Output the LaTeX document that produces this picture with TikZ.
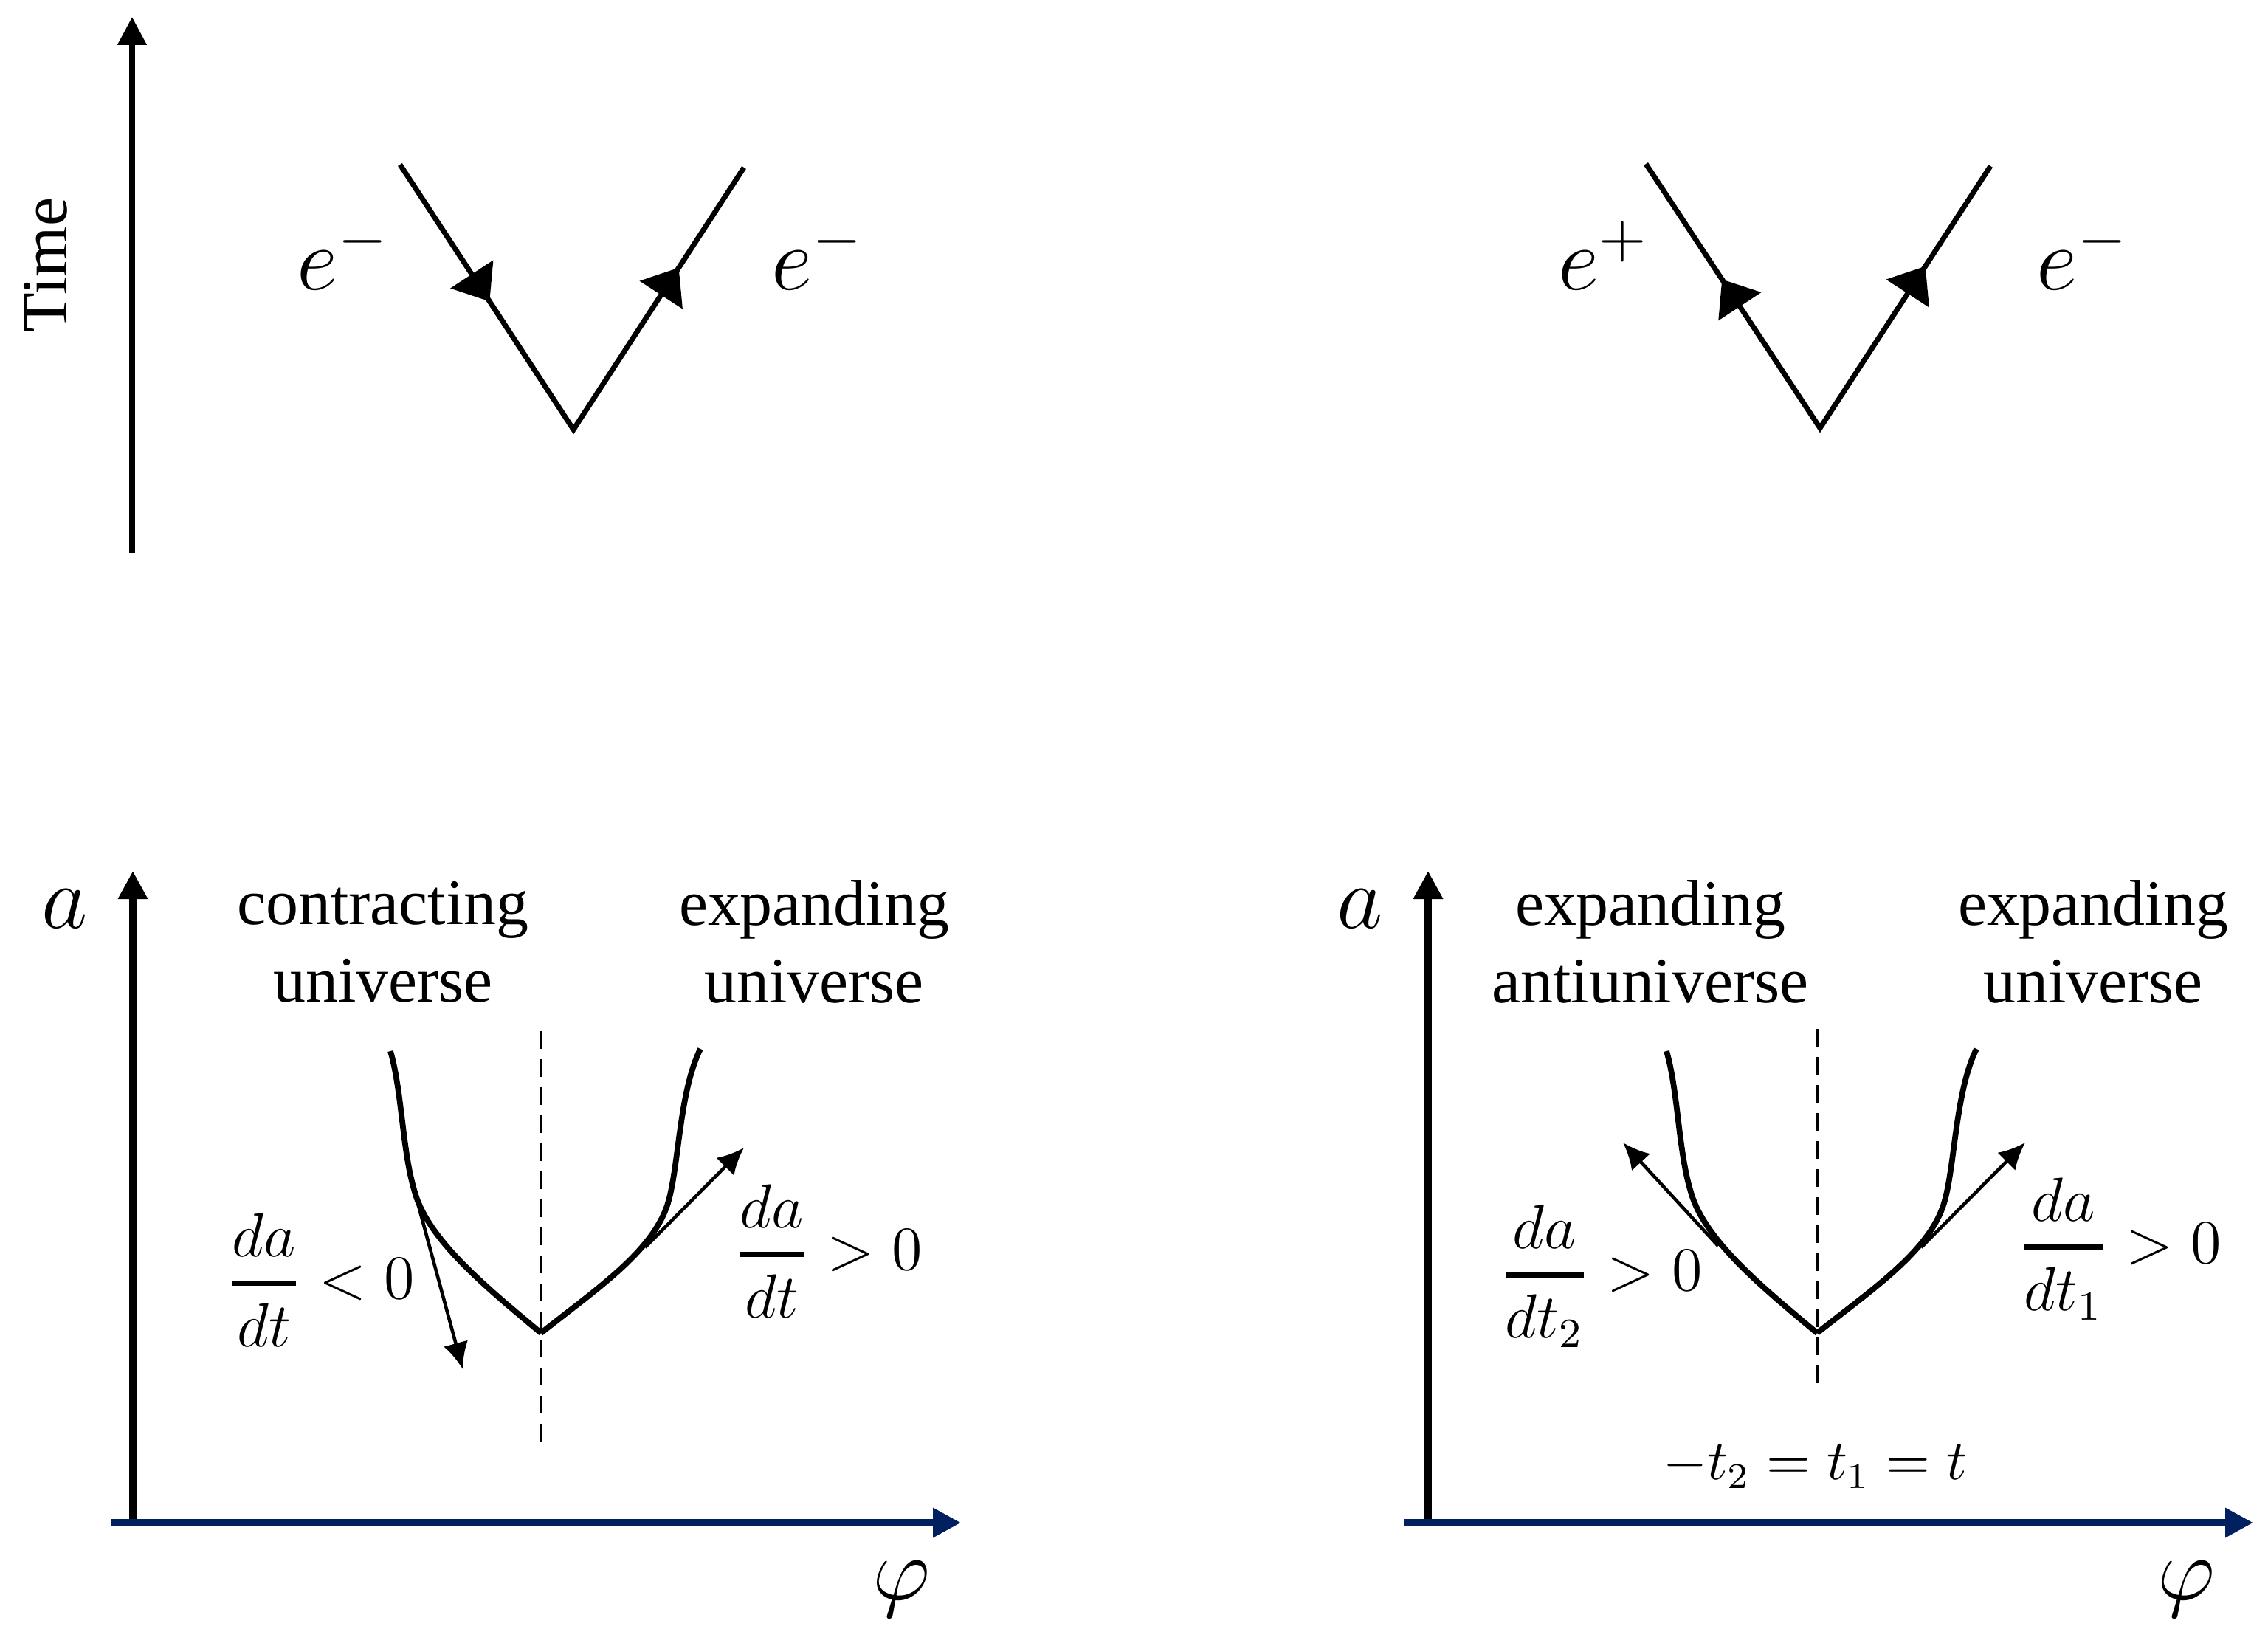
\documentclass[tikz,border=0pt]{standalone}
\usepackage{amsmath}
\usepackage{fontspec}
\setmainfont{Liberation Serif}
\usetikzlibrary{arrows.meta,decorations.markings}

\definecolor{navy}{RGB}{0,32,96}
\newcommand{\ratio}[2]{\genfrac{}{}{1.1pt}{0}{#1}{#2}}
\tikzset{
  ftip/.tip={Triangle[length=2.2mm,width=3.4mm]},
  taxis/.style={line width=1.1pt,-{Triangle[length=1.9mm,width=1.9mm]}},
  axis/.style={line width=1.4pt,-{Triangle[length=1.9mm,width=1.9mm]}},
  faxis/.style={axis,navy},
  vline/.style={line width=1pt,postaction={decorate}},
  curve/.style={line width=1.1pt},
  slope/.style={line width=0.65pt,-{Latex[length=1.8mm,width=1.7mm]}},
  divide/.style={line width=0.6pt,dash pattern=on 1.2mm off 0.7mm},
  lab/.style={font=\fontsize{12.5}{14.9}\selectfont,align=center,inner sep=0pt},
  big/.style={font=\fontsize{17}{20}\selectfont,inner sep=0pt},
  frac/.style={font=\fontsize{12}{14}\selectfont,inner sep=0pt},
}

\begin{document}
\begin{tikzpicture}[x=5mm,y=-5mm]
\useasboundingbox (0,0) rectangle (30.73,22.07);

% time axis
\coordinate (t0) at (1.79,7.49);
\coordinate (t1) at (1.79,0.23);
\draw[taxis] (t0) -- (t1);
\node[lab,rotate=90] (time) at (0.62,3.59) {Time};

% electron line
\coordinate (lA) at (5.42,2.23);
\coordinate (lB) at (7.77,5.82);
\coordinate (lC) at (10.08,2.27);
\draw[vline,decoration={markings,
  mark=at position 0.26 with {\arrow{ftip}},
  mark=at position 0.81 with {\arrow{ftip}}}] (lA) -- (lB) -- (lC);
\node[big,anchor=base] (eL1) at (4.65,3.93) {$e^-$};
\node[big,anchor=base] (eL2) at (11.08,3.93) {$e^-$};

% pair creation
\coordinate (rA) at (22.30,2.22);
\coordinate (rB) at (24.66,5.80);
\coordinate (rC) at (26.97,2.25);
\draw[vline,decoration={markings,
  mark=at position 0.22 with {\arrowreversed{ftip}},
  mark=at position 0.81 with {\arrow{ftip}}}] (rA) -- (rB) -- (rC);
\node[big,anchor=base] (eR1) at (21.73,3.93) {$e^+$};
\node[big,anchor=base] (eR2) at (28.22,3.93) {$e^-$};

% axes a / phi
\coordinate (o1) at (1.80,20.63);
\coordinate (a1) at (1.80,11.80);
\coordinate (q1) at (1.51,20.63);
\coordinate (p1) at (13.02,20.63);
\draw[axis] (o1) -- (a1);
\draw[faxis] (q1) -- (p1);
\node[big] (alab1) at (0.88,12.31) {$a$};
\node[big] (phi1) at (12.21,21.53) {$\varphi$};

\coordinate (o2) at (19.35,20.63);
\coordinate (a2) at (19.35,11.80);
\coordinate (q2) at (19.03,20.63);
\coordinate (p2) at (30.53,20.63);
\draw[axis] (o2) -- (a2);
\draw[faxis] (q2) -- (p2);
\node[big] (alab2) at (18.43,12.31) {$a$};
\node[big] (phi2) at (29.62,21.53) {$\varphi$};

% bounce curves
\foreach \s in {0,17.29} {
  \draw[curve] ({5.29+\s},14.24) .. controls ({5.45+\s},14.8) and ({5.45+\s},15.6) .. ({5.62+\s},16.15)
    .. controls ({5.80+\s},16.8) and ({6.60+\s},17.45) .. ({7.33+\s},18.06);
  \draw[curve] ({7.33+\s},18.06) .. controls ({8.10+\s},17.45) and ({8.85+\s},16.95) .. ({9.05+\s},16.30)
    .. controls ({9.20+\s},15.80) and ({9.20+\s},14.80) .. ({9.49+\s},14.21);
}

% dashed lines
\coordinate (d1t) at (7.33,13.97);
\coordinate (d1b) at (7.33,19.66);
\draw[divide] (d1t) -- (d1b);
\coordinate (d2t) at (24.63,13.94);
\coordinate (d2b) at (24.63,18.78);
\draw[divide] (d2t) -- (d2b);

% slopes
\coordinate (s1a) at (5.62,16.15);
\coordinate (s1b) at (6.27,18.55);
\draw[slope] (s1a) -- (s1b);
\coordinate (s2a) at (8.74,16.90);
\coordinate (s2b) at (10.08,15.55);
\draw[slope] (s2a) -- (s2b);
\coordinate (s3a) at (23.28,16.88);
\coordinate (s3b) at (21.99,15.48);
\draw[slope] (s3a) -- (s3b);
\coordinate (s4a) at (26.03,16.90);
\coordinate (s4b) at (27.44,15.48);
\draw[slope] (s4a) -- (s4b);

% labels
\node[lab] (cu) at (5.19,12.76) {contracting\\universe};
\node[lab] (eu1) at (11.03,12.76) {expanding\\universe};
\node[lab] (ea) at (22.36,12.76) {expanding\\antiuniverse};
\node[lab] (eu2) at (28.36,12.76) {expanding\\universe};

\node[frac] (dneg) at (4.34,17.34) {$\ratio{da}{dt}<0$};
\node[frac] (dpos) at (11.22,16.95) {$\ratio{da}{dt}>0$};
\node[frac] (dt2) at (21.69,17.29) {$\ratio{da}{dt_2}>0$};
\node[frac] (dt1) at (28.72,16.92) {$\ratio{da}{dt_1}>0$};
\node[frac,font=\fontsize{10.5}{13}\selectfont] (trel) at (24.59,19.87) {$-t_2=t_1=t$};
\end{tikzpicture}
\end{document}
